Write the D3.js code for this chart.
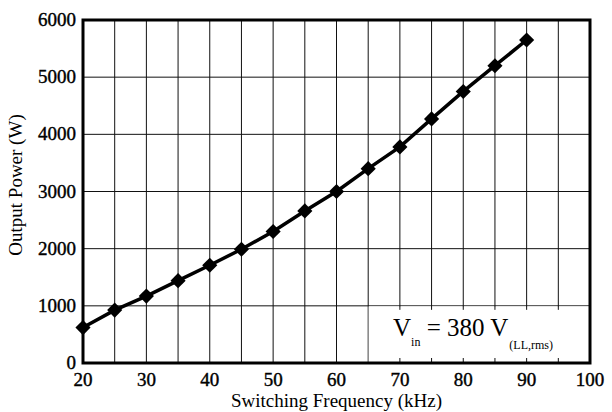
<!DOCTYPE html>
<html>
<head>
<meta charset="utf-8">
<script src="https://cdn.jsdelivr.net/npm/d3@7"></script>
<style>
  body { margin: 0; background: #fff; }
  svg text { font-family: "Liberation Serif", "Times New Roman", serif; fill: #000; }
</style>
</head>
<body>
<script>
const w = 612;
const h = 412;
const margin = {top: 20, right: 22, bottom: 49, left: 83};

// data
const freq = [20, 25, 30, 35, 40, 45, 50, 55, 60, 65, 70, 75, 80, 85, 90];
const power = [620, 925, 1170, 1440, 1710, 1990, 2300, 2660, 3000, 3400, 3780, 4270, 4750, 5200, 5650];
const xTicks = [20, 30, 40, 50, 60, 70, 80, 90, 100];
const xGrid = [25, 30, 35, 40, 45, 50, 55, 60, 65, 70, 75, 80, 85, 90, 95];
const yTicks = [0, 1000, 2000, 3000, 4000, 5000, 6000];

var svg = d3.select("body")
            .append("svg")
            .attr("width", w)
            .attr("height", h);

const xScale = d3.scaleLinear()
                 .domain([20, 100])
                 .range([margin.left, w - margin.right]);

const yScale = d3.scaleLinear()
                 .domain([0, 6000])
                 .range([h - margin.bottom, margin.top]);

const chart = svg.append("g");

// grid
chart.selectAll(".vgrid")
     .data(xGrid)
     .enter()
     .append("line")
     .attr("x1", d => xScale(d))
     .attr("x2", d => xScale(d))
     .attr("y1", yScale(6000))
     .attr("y2", yScale(0))
     .attr("stroke", "#111")
     .attr("stroke-width", 1);

chart.selectAll(".hgrid")
     .data(yTicks.slice(1, -1))
     .enter()
     .append("line")
     .attr("x1", xScale(20))
     .attr("x2", xScale(100))
     .attr("y1", d => yScale(d))
     .attr("y2", d => yScale(d))
     .attr("stroke", "#111")
     .attr("stroke-width", 1);

// white box for the annotation (covers the grid cells 65-100, 0-1000)
chart.append("rect")
     .attr("x", xScale(65) + 0.5)
     .attr("y", yScale(1000) + 0.5)
     .attr("width", xScale(100) - xScale(65))
     .attr("height", yScale(0) - yScale(1000))
     .attr("fill", "#fff");

// small stubs left over from the grid inside the box
const stubs = xGrid.filter(d => d > 65);
chart.selectAll(".stubTop")
     .data(stubs)
     .enter()
     .append("line")
     .attr("x1", d => xScale(d))
     .attr("x2", d => xScale(d))
     .attr("y1", yScale(1000))
     .attr("y2", yScale(1000) + 4)
     .attr("stroke", "#111");

chart.selectAll(".stubBottom")
     .data(stubs)
     .enter()
     .append("line")
     .attr("x1", d => xScale(d))
     .attr("x2", d => xScale(d))
     .attr("y1", yScale(0))
     .attr("y2", yScale(0) - 5)
     .attr("stroke", "#111");

// frame
chart.append("rect")
     .attr("x", xScale(20))
     .attr("y", yScale(6000))
     .attr("width", xScale(100) - xScale(20))
     .attr("height", yScale(0) - yScale(6000))
     .attr("fill", "none")
     .attr("stroke", "#000")
     .attr("stroke-width", 3);

// tick labels (a bit heavy, like the scan)
chart.selectAll(".xlab")
     .data(xTicks)
     .enter()
     .append("text")
     .text(d => d)
     .attr("x", d => xScale(d))
     .attr("y", yScale(0) + 23)
     .attr("text-anchor", "middle")
     .attr("font-size", 19)
     .attr("stroke", "#000")
     .attr("stroke-width", 0.4);

chart.selectAll(".ylab")
     .data(yTicks)
     .enter()
     .append("text")
     .text(d => d)
     .attr("x", xScale(20) - 7)
     .attr("y", d => yScale(d) + 6)
     .attr("text-anchor", "end")
     .attr("font-size", 19)
     .attr("stroke", "#000")
     .attr("stroke-width", 0.4);

// line + markers
const line = d3.line()
               .x((d, i) => xScale(freq[i]))
               .y(d => yScale(d));

chart.append("path")
     .datum(power)
     .attr("d", line)
     .attr("fill", "none")
     .attr("stroke", "#000")
     .attr("stroke-width", 3.5);

chart.selectAll(".pt")
     .data(power)
     .enter()
     .append("path")
     .attr("d", d3.symbol().type(d3.symbolSquare).size(115))
     .attr("transform", (d, i) => "translate(" + xScale(freq[i]) + "," + yScale(d) + ") rotate(45)")
     .attr("fill", "#000");

// titles
svg.append("text")
   .text("Switching Frequency (kHz)")
   .attr("x", (xScale(20) + xScale(100)) / 2)
   .attr("y", 407)
   .attr("text-anchor", "middle")
   .attr("font-size", 19);

svg.append("text")
   .text("Output Power (W)")
   .attr("transform", "translate(22,185) rotate(-90)")
   .attr("text-anchor", "middle")
   .attr("font-size", 19);

// annotation
const note = svg.append("text")
                .attr("x", 393)
                .attr("y", 336)
                .attr("font-size", 25);
note.append("tspan").text("V");
note.append("tspan").text("in").attr("font-size", 12).attr("dy", 10);
note.append("tspan").text(" = 380 V").attr("dy", -10);
note.append("tspan").text("(LL,rms)").attr("font-size", 12).attr("dy", 13).attr("dx", 1);
</script>
</body>
</html>
